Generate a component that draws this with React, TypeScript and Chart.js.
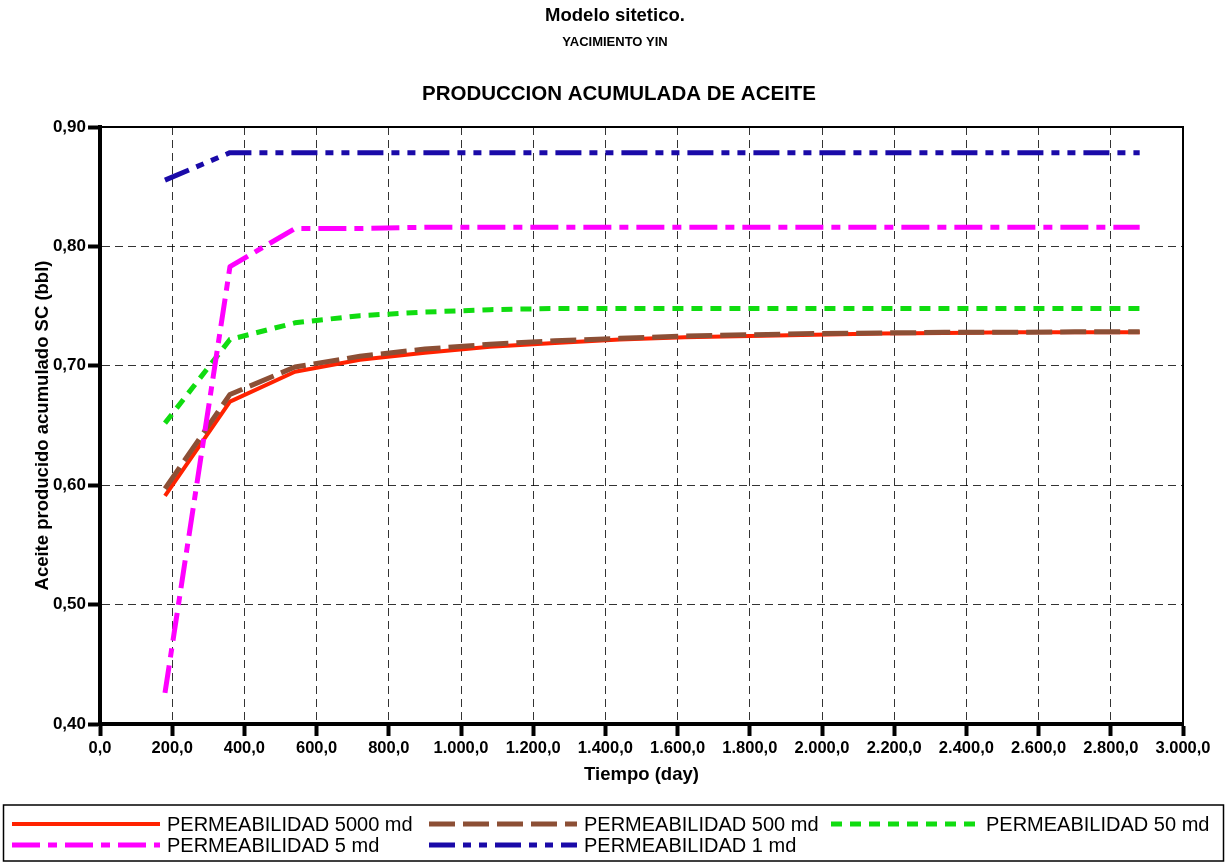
import React, { useEffect, useRef } from "react";
import { Chart, registerables } from "chart.js";

Chart.register(...registerables);

const days = [180, 360, 540, 720, 900, 1080, 1260, 1440, 1620, 1800, 1980, 2160, 2340, 2520, 2700, 2880];
const perm5000 = [0.591, 0.670, 0.695, 0.705, 0.711, 0.716, 0.719, 0.722, 0.724, 0.725, 0.726, 0.727, 0.7275, 0.728, 0.728, 0.728];
const perm500 = [0.597, 0.676, 0.699, 0.708, 0.714, 0.718, 0.721, 0.723, 0.725, 0.726, 0.727, 0.7275, 0.728, 0.728, 0.7285, 0.7285];
const perm50 = [0.652, 0.722, 0.736, 0.742, 0.745, 0.747, 0.748, 0.748, 0.748, 0.748, 0.748, 0.748, 0.748, 0.748, 0.748, 0.748];
const perm5 = [0.426, 0.783, 0.815, 0.815, 0.816, 0.816, 0.816, 0.816, 0.816, 0.816, 0.816, 0.816, 0.816, 0.816, 0.816, 0.816];
const perm1 = [0.8555, 0.8785, 0.8785, 0.8785, 0.8785, 0.8785, 0.8785, 0.8785, 0.8785, 0.8785, 0.8785, 0.8785, 0.8785, 0.8785, 0.8785, 0.8785];

const seriesLabels = [
  "PERMEABILIDAD 5000 md",
  "PERMEABILIDAD 500 md",
  "PERMEABILIDAD 50 md",
  "PERMEABILIDAD 5 md",
  "PERMEABILIDAD 1 md",
];

const titleLines = ["Modelo sitetico.", "YACIMIENTO YIN", "PRODUCCION ACUMULADA DE ACEITE"];
const xAxisTitle = "Tiempo (day)";
const yAxisTitle = "Aceite producido acumulado SC (bbl)";

const FONT = "'Liberation Sans', Arial, sans-serif";

function fmtX(v: number): string {
  const s = Math.round(v).toString().replace(/\B(?=(\d{3})+(?!\d))/g, ".");
  return s + ",0";
}
function fmtY(v: number): string {
  return v.toFixed(2).replace(".", ",");
}

const toPts = (vals: number[]) => days.map((d, i) => ({ x: d, y: vals[i] }));

const titlesPlugin = {
  id: "titles",
  afterDraw(chart: any) {
    const ctx = chart.ctx;
    ctx.save();
    ctx.fillStyle = "#000";
    ctx.textAlign = "center";
    ctx.textBaseline = "middle";
    ctx.font = `bold 18.5px ${FONT}`;
    ctx.fillText(titleLines[0], 615, 16);
    ctx.font = `bold 13px ${FONT}`;
    ctx.fillText(titleLines[1], 615, 42);
    ctx.font = `bold 20.5px ${FONT}`;
    ctx.fillText(titleLines[2], 619, 94);
    ctx.restore();
  },
};

const framePlugin = {
  id: "frame",
  afterDatasetsDraw(chart: any) {
    const { ctx, chartArea } = chart;
    ctx.save();
    ctx.strokeStyle = "#000";
    ctx.lineWidth = 2;
    ctx.beginPath();
    ctx.moveTo(chartArea.left, chartArea.top);
    ctx.lineTo(chartArea.right, chartArea.top);
    ctx.lineTo(chartArea.right, chartArea.bottom);
    ctx.stroke();
    ctx.restore();
  },
};

const legendPlugin = {
  id: "boxLegend",
  afterDraw(chart: any) {
    const ctx = chart.ctx;
    ctx.save();
    ctx.strokeStyle = "#000";
    ctx.lineWidth = 1.5;
    ctx.setLineDash([]);
    ctx.strokeRect(3.5, 805, 1220, 56);
    const cols = [12, 429, 831];
    const rows = [824, 845];
    chart.data.datasets.forEach((ds: any, i: number) => {
      const x = cols[i % 3];
      const y = rows[Math.floor(i / 3)];
      ctx.strokeStyle = ds.borderColor;
      ctx.lineWidth = ds.borderWidth;
      ctx.lineCap = "butt";
      ctx.setLineDash(ds.borderDash || []);
      ctx.beginPath();
      ctx.moveTo(x, y);
      ctx.lineTo(x + 148, y);
      ctx.stroke();
      ctx.setLineDash([]);
      ctx.fillStyle = "#000";
      ctx.font = `20px ${FONT}`;
      ctx.textAlign = "left";
      ctx.textBaseline = "middle";
      ctx.fillText(ds.label, x + 155, y + 1);
    });
    ctx.restore();
  },
};

export default function App() {
  const ref = useRef<HTMLCanvasElement>(null);
  useEffect(() => {
    if (!ref.current) return;
    const common = { pointRadius: 0, tension: 0, fill: false, borderCapStyle: "butt", borderJoinStyle: "round" };
    const chart = new Chart(ref.current, {
      type: "line",
      data: {
        datasets: [
          { ...common, label: seriesLabels[0], data: toPts(perm5000), borderColor: "#ff2200", borderWidth: 4, borderDash: [], order: 5 },
          { ...common, label: seriesLabels[1], data: toPts(perm500), borderColor: "#8c4f35", borderWidth: 5, borderDash: [26, 8], order: 4 },
          { ...common, label: seriesLabels[2], data: toPts(perm50), borderColor: "#10dc10", borderWidth: 5, borderDash: [11, 8], order: 3 },
          { ...common, label: seriesLabels[3], data: toPts(perm5), borderColor: "#ff00ff", borderWidth: 5, borderDash: [28, 8, 9, 8], order: 2 },
          { ...common, label: seriesLabels[4], data: toPts(perm1), borderColor: "#1a0aa8", borderWidth: 5, borderDash: [26, 8, 8, 8, 8, 8], order: 1 },
        ] as any,
      },
      options: {
        responsive: false,
        animation: false,
        devicePixelRatio: 1,
        layout: { padding: { top: 127, right: 44, bottom: 69, left: 0 } },
        plugins: { legend: { display: false }, title: { display: false }, tooltip: { enabled: false } },
        scales: {
          x: {
            type: "linear",
            min: 0,
            max: 3000,
            afterFit: (s: any) => { s.height = 70; },
            ticks: { stepSize: 200, callback: (v: any) => fmtX(Number(v)), color: "#000", font: { family: FONT, size: 16.5, weight: "bold" }, padding: 3, maxRotation: 0, autoSkip: false },
            grid: { color: "rgba(0,0,0,0.8)", lineWidth: 1, tickLength: 12, tickColor: "#000", tickWidth: 4, tickBorderDash: [] },
            border: { display: true, color: "#000", width: 4, dash: [8, 5] },
            title: { display: true, text: xAxisTitle, color: "#000", font: { family: FONT, size: 18.5, weight: "bold" }, padding: { top: 0, bottom: 8 } },
          },
          y: {
            type: "linear",
            min: 0.4,
            max: 0.9,
            afterFit: (s: any) => { s.width = 100; },
            ticks: { stepSize: 0.1, callback: (v: any) => fmtY(Number(v)), color: "#000", font: { family: FONT, size: 17, weight: "bold" }, padding: 2 },
            grid: { color: "rgba(0,0,0,0.8)", lineWidth: 1, tickLength: 12, tickColor: "#000", tickWidth: 4, tickBorderDash: [] },
            border: { display: true, color: "#000", width: 4, dash: [8, 5] },
            title: { display: true, text: yAxisTitle, color: "#000", font: { family: FONT, size: 18.5, weight: "bold" }, padding: { top: 32, bottom: 0 } },
          },
        },
      } as any,
      plugins: [titlesPlugin, framePlugin, legendPlugin],
    });
    return () => chart.destroy();
  }, []);
  return (
    <div style={{ position: "absolute", left: 0, top: 0, width: 1227, height: 863, background: "#fff" }}>
      <canvas ref={ref} width={1227} height={863} style={{ display: "block" }} />
    </div>
  );
}
